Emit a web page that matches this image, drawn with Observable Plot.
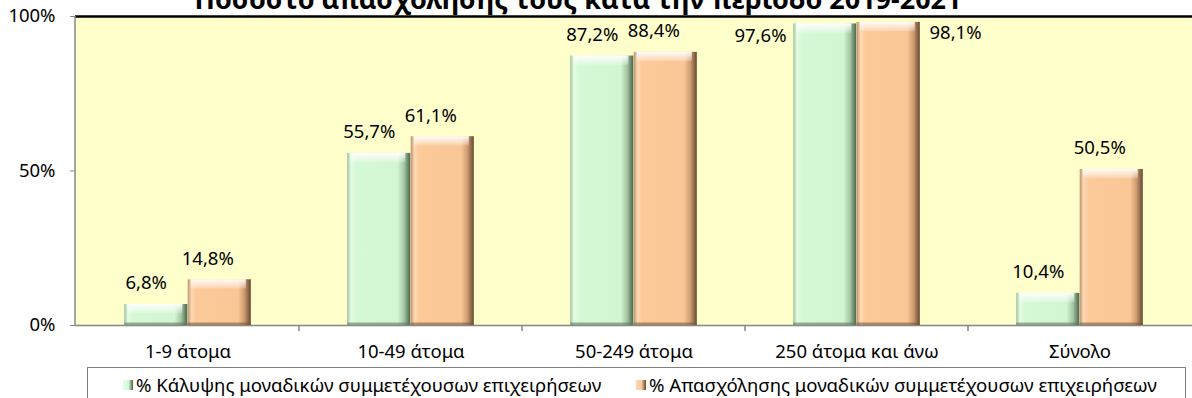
<!DOCTYPE html>
<html>
<head>
<meta charset="utf-8">
<script src="https://cdn.jsdelivr.net/npm/d3@7"></script>
<script src="https://cdn.jsdelivr.net/npm/@observablehq/plot@0.6"></script>
<style>
  html, body { margin: 0; padding: 0; background: #ffffff; }
  #wrap { position: relative; width: 1192px; height: 398px; overflow: hidden; font-family: "Noto Sans", sans-serif; }
  #title { position: absolute; left: 0; width: 1156px; top: -15px; text-align: center; font-weight: bold; font-size: 27px; line-height: 27px; color: #000; white-space: nowrap; }
  #chart { position: absolute; left: 0; top: 0; }
  #legend { position: absolute; left: 87px; top: 367px; width: 1099px; height: 40px; border: 1px solid #7f7f7f; box-sizing: border-box; font-size: 18.6px; color: #000; }
  .item { position: absolute; top: 4px; display: flex; align-items: center; white-space: nowrap; }
  .sw { width: 10px; height: 10px; margin-right: 3px; }
</style>
</head>
<body>
<div id="wrap">
  <div id="chart"></div>
  <div id="title"></div>
  <div id="legend"></div>
</div>
<script>
const titleText = "Ποσοστό απασχόλησής τους κατά την περίοδο 2019-2021";
const categories = ["1-9 άτομα", "10-49 άτομα", "50-249 άτομα", "250 άτομα και άνω", "Σύνολο"];
const coverage = [6.8, 55.7, 87.2, 97.6, 10.4];
const employment = [14.8, 61.1, 88.4, 98.1, 50.5];
const seriesNames = ["% Κάλυψης μοναδικών συμμετέχουσων επιχειρήσεων", "% Απασχόλησης μοναδικών συμμετέχουσων επιχειρήσεων"];
const yTicks = [0, 50, 100];

const fmt = v => v.toFixed(1).replace(".", ",") + "%";
const rows = [];
categories.forEach((c, i) => {
  rows.push({cat: c, series: 0, value: coverage[i]});
  rows.push({cat: c, series: 1, value: employment[i]});
});
const green = rows.filter(d => d.series === 0);
const orange = rows.filter(d => d.series === 1);

const W = 1192, H = 365, mL = 75, mR = 0, mT = 16, mB = 40;
const bw = (W - mL - mR) / categories.length;
const barW = 63.5;
const inOuter = bw / 2 - barW;   // inset on outer side
const inInner = bw / 2;          // inset on inner side

const bigLabel = v => v > 95;

const plot = Plot.plot({
  width: W, height: H,
  marginLeft: mL, marginRight: mR, marginTop: mT, marginBottom: mB,
  style: {fontFamily: "'Noto Sans', sans-serif", fontSize: "18.5px", color: "#000", background: "transparent", overflow: "visible"},
  x: {domain: categories, padding: 0, label: null},
  y: {domain: [0, 100], label: null},
  marks: [
    Plot.frame({fill: "#ffffcc", stroke: null}),
    Plot.axisY({ticks: yTicks, tickFormat: d => d + "%", tickSize: 5, tickPadding: 15, stroke: "#868686", label: null}),
    Plot.axisX({tickSize: 0, tickPadding: 19, label: null}),
    Plot.ruleY([100], {stroke: "#000", strokeWidth: 2.5}),
    Plot.ruleY([0], {stroke: "#868686", strokeWidth: 1.5}),
    // green bars
    Plot.barY(green, {x: "cat", y: "value", insetLeft: inOuter, insetRight: inInner, fill: "url(#gradGreen)"}),
    Plot.barY(green, {x: "cat", y1: d => Math.max(0, d.value - 3), y2: "value", insetLeft: inOuter + 3, insetRight: inInner + 5, fill: "url(#topHi)"}),
    Plot.barY(green, {x: "cat", y1: 0, y2: d => Math.min(d.value, 0.8), insetLeft: inOuter, insetRight: inInner, fill: "#5d7a60", fillOpacity: 0.6}),
    // orange bars
    Plot.barY(orange, {x: "cat", y: "value", insetLeft: inInner, insetRight: inOuter, fill: "url(#gradOrange)"}),
    Plot.barY(orange, {x: "cat", y1: d => Math.max(0, d.value - 3), y2: "value", insetLeft: inInner + 3, insetRight: inOuter + 5, fill: "url(#topHi)"}),
    Plot.barY(orange, {x: "cat", y1: 0, y2: d => Math.min(d.value, 0.8), insetLeft: inInner, insetRight: inOuter, fill: "#7a5a3e", fillOpacity: 0.6}),
    // labels
    Plot.text(green.filter(d => !bigLabel(d.value)), {x: "cat", y: "value", text: d => fmt(d.value), dx: -barW / 2 - 10, dy: -21}),
    Plot.text(orange.filter(d => !bigLabel(d.value)), {x: "cat", y: "value", text: d => fmt(d.value), dx: barW / 2 - 12, dy: -21}),
    Plot.text(green.filter(d => bigLabel(d.value)), {x: "cat", y: "value", text: d => fmt(d.value), textAnchor: "end", dx: -barW - 7, dy: 12}),
    Plot.text(orange.filter(d => bigLabel(d.value)), {x: "cat", y: "value", text: d => fmt(d.value), textAnchor: "start", dx: barW + 9, dy: 11})
  ]
});

// gradients for the bevelled bar look
const svg = d3.select(plot);
const defs = svg.insert("defs", ":first-child");
function hGrad(id, stops) {
  const g = defs.append("linearGradient").attr("id", id).attr("x1", 0).attr("x2", 1).attr("y1", 0).attr("y2", 0);
  stops.forEach(([o, c]) => g.append("stop").attr("offset", o).attr("stop-color", c));
}
hGrad("gradGreen", [[0, "#9cc49c"], [0.06, "#e6fce6"], [0.14, "#d5f8d5"], [0.8, "#d2f5d2"], [0.9, "#a3c8a3"], [1, "#4a644d"]]);
hGrad("gradOrange", [[0, "#c09268"], [0.06, "#fdd8b4"], [0.14, "#fcc999"], [0.8, "#f9c696"], [0.9, "#cc9a6e"], [1, "#654832"]]);
const v = defs.append("linearGradient").attr("id", "topHi").attr("x1", 0).attr("x2", 0).attr("y1", 0).attr("y2", 1);
v.append("stop").attr("offset", 0).attr("stop-color", "#ffffff").attr("stop-opacity", 0.95);
v.append("stop").attr("offset", 1).attr("stop-color", "#ffffff").attr("stop-opacity", 0.2);

// left axis line and category separator ticks, using the plot's scales
const xs = plot.scale("x"), ys = plot.scale("y");
const y0 = ys.apply(0), y100 = ys.apply(100);
svg.append("line").attr("x1", mL).attr("x2", mL).attr("y1", y100).attr("y2", y0).attr("stroke", "#868686").attr("stroke-width", 1.5);
categories.slice(1).forEach(c => {
  const x = xs.apply(c);
  svg.append("line").attr("x1", x).attr("x2", x).attr("y1", y0).attr("y2", y0 + 6).attr("stroke", "#868686").attr("stroke-width", 1.5);
});

document.getElementById("chart").appendChild(plot);
document.getElementById("title").textContent = titleText;

// legend
const legend = document.getElementById("legend");
const swatches = ["linear-gradient(90deg,#e6fce6,#d5f8d5 55%,#4a644d)", "linear-gradient(90deg,#fdd8b4,#fcc999 55%,#654832)"];
const lefts = [35, 548];
seriesNames.forEach((s, i) => {
  const it = document.createElement("div");
  it.className = "item";
  it.style.left = lefts[i] + "px";
  const sw = document.createElement("div");
  sw.className = "sw";
  sw.style.background = swatches[i];
  const t = document.createElement("span");
  t.textContent = s;
  it.appendChild(sw); it.appendChild(t);
  legend.appendChild(it);
});
</script>
</body>
</html>
